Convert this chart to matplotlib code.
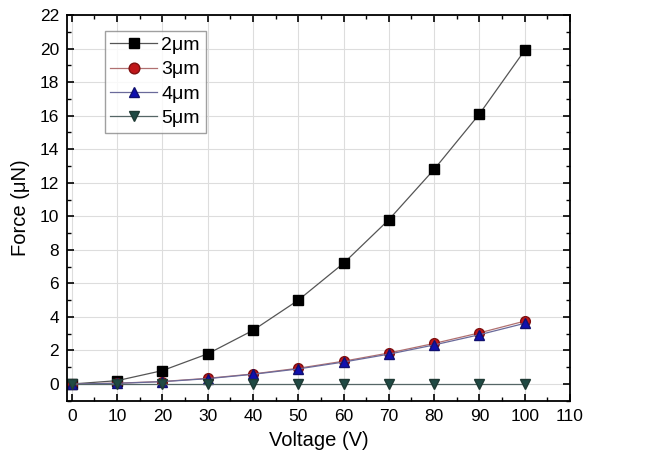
import matplotlib
matplotlib.use('Agg')
import matplotlib.pyplot as plt
from matplotlib.ticker import MultipleLocator

plt.rcParams['font.family'] = ['Liberation Sans', 'DejaVu Sans']

voltage = [0, 10, 20, 30, 40, 50, 60, 70, 80, 90, 100]
force_2um = [0.0, 0.2, 0.8, 1.8, 3.2, 5.0, 7.2, 9.8, 12.8, 16.1, 19.9]
force_3um = [0.0, 0.05, 0.15, 0.34, 0.6, 0.94, 1.36, 1.85, 2.42, 3.05, 3.75]
force_4um = [0.0, 0.04, 0.14, 0.32, 0.58, 0.9, 1.31, 1.78, 2.33, 2.94, 3.62]
force_5um = [0.0, 0.0, 0.0, 0.0, 0.0, 0.0, 0.0, 0.0, 0.0, 0.0, 0.0]

fig = plt.figure(figsize=(6.47, 4.57), dpi=100)
ax = fig.add_axes([0.104, 0.123, 0.777, 0.844])

ax.plot(voltage, force_2um, color='#555555', lw=0.9, marker='s', ms=7,
        mfc='black', mec='black', label='2\u03bcm')
ax.plot(voltage, force_3um, color='#b07070', lw=0.9, marker='o', ms=7,
        mfc='#c0171a', mec='#801010', label='3\u03bcm')
ax.plot(voltage, force_4um, color='#6a6a9a', lw=0.9, marker='^', ms=7,
        mfc='#1010b0', mec='#101070', label='4\u03bcm')
ax.plot(voltage, force_5um, color='#556666', lw=0.9, marker='v', ms=7,
        mfc='#1f4a44', mec='#1f3a34', label='5\u03bcm')

ax.set_xlim(-1, 110)
ax.set_ylim(-1, 22)
ax.xaxis.set_major_locator(MultipleLocator(10))
ax.xaxis.set_minor_locator(MultipleLocator(5))
ax.yaxis.set_major_locator(MultipleLocator(2))
ax.yaxis.set_minor_locator(MultipleLocator(1))
ax.tick_params(which='both', direction='in', top=True, right=True,
               labeltop=False, labelright=False)
ax.tick_params(which='major', length=5, width=1.2, labelsize=12.5, pad=6)
ax.tick_params(which='minor', length=3, width=1.0)
ax.grid(True, which='major', color='#dddddd', lw=0.8)
for s in ax.spines.values():
    s.set_linewidth(1.3)

ax.set_xlabel('Voltage (V)', fontsize=14.5, labelpad=5)
ax.set_ylabel('Force (\u03bcN)', fontsize=14.5, labelpad=7)

ax.legend(loc='upper left', bbox_to_anchor=(0.055, 0.985), fontsize=14,
          frameon=True, fancybox=False, edgecolor='#888888',
          handlelength=2.4, handletextpad=0.2, borderpad=0.3,
          labelspacing=0.35, markerscale=1.1)

fig.savefig('out.png', dpi=100)
